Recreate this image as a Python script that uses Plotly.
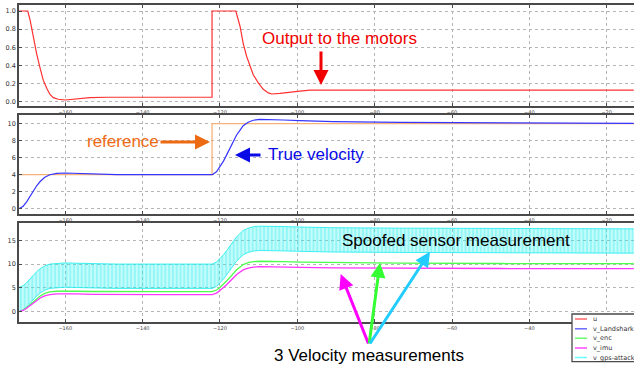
import plotly.graph_objects as go

# ---------------- data ----------------
u_t = [-172, -169.7, -169.1, -168.3, -167.4, -166.5, -165.7, -164.8, -164.0, -163.1, -161.8, -160.0,
       -157.1, -153.6, -149.3, -122.05, -122.05, -115.9, -114.8, -114.0, -113.1, -112.2, -111.4,
       -110.1, -108.8, -107.5, -106.6, -104.5, -101.9, -99.3, -96.7, -13]
u_v = [1.0, 1.0, 0.9, 0.72, 0.53, 0.37, 0.24, 0.15, 0.085, 0.048, 0.03, 0.022,
       0.033, 0.048, 0.052, 0.052, 1.0, 1.0, 0.83, 0.645, 0.5, 0.39, 0.30,
       0.21, 0.14, 0.10, 0.088, 0.095, 0.11, 0.12, 0.13, 0.13]

ref_t = [-172, -122.05, -122.05, -13]
ref_v = [4, 4, 10, 10]

t = [-172, -170.9, -170, -169.1, -168.3, -167.4, -166.5, -165.3, -164, -162.2, -160.1, -157.1,
     -152.8, -146.7, -135, -122, -120.9, -120, -119.1, -118.3, -117.4, -116.6, -115.7, -114.8,
     -114, -112.7, -111.4, -109.7, -107.1, -103.6, -99.3, -90.7, -73.5, -47.6, -13]
v_landshark = [0, 0.3, 0.8, 1.45, 2.1, 2.7, 3.2, 3.7, 4.0, 4.15, 4.2, 4.15,
               4.05, 4.0, 4.0, 4.0, 4.35, 4.94, 5.6, 6.3, 7.1, 7.9, 8.67, 9.25,
               9.76, 10.16, 10.4, 10.5, 10.5, 10.43, 10.35, 10.24, 10.16, 10.08, 10.04]
v_enc = [0, 0.35, 0.85, 1.5, 2.2, 2.8, 3.3, 3.85, 4.15, 4.3, 4.35, 4.3,
         4.25, 4.2, 4.2, 4.2, 4.55, 5.1, 5.75, 6.45, 7.25, 8.05, 8.8, 9.4,
         9.9, 10.3, 10.5, 10.6, 10.6, 10.5, 10.4, 10.3, 10.2, 10.12, 10.08]
v_imu = [0, 0.27, 0.72, 1.3, 1.9, 2.43, 2.88, 3.33, 3.6, 3.73, 3.78, 3.73,
         3.65, 3.6, 3.6, 3.6, 3.9, 4.45, 5.05, 5.67, 6.4, 7.1, 7.8, 8.33,
         8.78, 9.14, 9.36, 9.45, 9.45, 9.39, 9.32, 9.22, 9.14, 9.07, 9.04]
gps_lo = [0, 0.37, 0.98, 1.78, 2.57, 3.31, 3.92, 4.53, 4.9, 5.08, 5.15, 5.08,
          4.96, 4.9, 4.9, 4.9, 5.33, 6.05, 6.86, 7.72, 8.7, 9.68, 10.62, 11.33,
          11.96, 12.45, 12.74, 12.86, 12.86, 12.78, 12.68, 12.54, 12.45, 12.35, 12.3]
gps_hi = [5.1, 5.47, 6.08, 6.88, 7.67, 8.41, 9.02, 9.63, 10.0, 10.18, 10.25, 10.18,
          10.06, 10.0, 10.0, 10.0, 10.43, 11.15, 11.96, 12.82, 13.8, 14.78, 15.72, 16.43,
          17.06, 17.55, 17.84, 17.96, 17.96, 17.88, 17.78, 17.64, 17.55, 17.45, 17.4]

x_ticks = [-160, -140, -120, -100, -80, -60, -40, -20]
x_ticktext = ["\u2212160", "\u2212140", "\u2212120", "\u2212100", "\u221280", "\u221260", "\u221240", "\u221220"]
x_ticktext_bottom = ["\u2212160", "\u2212140", "\u2212120", "\u2212100", "\u221280", "\u221260", "\u221240", ""]
legend_names = ["u", "v_Landshark", "v_enc", "v_imu", "v_gps-attacked"]
legend_colors = ["#ff6a6a", "#6a6aff", "#6aff6a", "#ff4aff", "#6affff"]

# ---------------- figure ----------------
W, H = 634, 368
ML, MR, MT, MB = 19, 0, 5, 46
PW, PH = W - ML - MR, H - MT - MB


def P(px, py):
    return (px - ML) / PW, (H - MB - py) / PH


RED, BLUE, GREEN, MAG, CYAN, ORANGE = "#ff3030", "#3535ff", "#4cff4c", "#ff35ff", "#2aeeee", "#f7b27a"

fig = go.Figure()
fig.add_trace(go.Scatter(x=u_t, y=u_v, mode="lines", line=dict(color=RED, width=1.2),
                         name="u", xaxis="x", yaxis="y"))
fig.add_trace(go.Scatter(x=ref_t, y=ref_v, mode="lines", line=dict(color=ORANGE, width=1.3),
                         name="reference", xaxis="x2", yaxis="y2"))
fig.add_trace(go.Scatter(x=t, y=v_landshark, mode="lines", line=dict(color=BLUE, width=1.2),
                         name="v_Landshark", xaxis="x2", yaxis="y2"))
fig.add_trace(go.Scatter(x=t, y=gps_lo, mode="lines", line=dict(color=CYAN, width=0.9),
                         name="v_gps-attacked", xaxis="x3", yaxis="y3"))
fig.add_trace(go.Scatter(x=t, y=gps_hi, mode="lines", line=dict(color=CYAN, width=0.9),
                         fill="tonexty", fillcolor="rgba(0,0,0,0)",
                         fillpattern=dict(shape="|", fgcolor=CYAN, bgcolor="rgba(255,255,255,0)",
                                          size=3.8, solidity=0.78),
                         name="v_gps-attacked", xaxis="x3", yaxis="y3"))
fig.add_trace(go.Scatter(x=t, y=v_enc, mode="lines", line=dict(color=GREEN, width=1.3),
                         name="v_enc", xaxis="x3", yaxis="y3"))
fig.add_trace(go.Scatter(x=t, y=v_imu, mode="lines", line=dict(color=MAG, width=1.3),
                         name="v_imu", xaxis="x3", yaxis="y3"))

FRAME = "#4a4a4a"
tick_font = dict(family="DejaVu Sans", size=5, color="#444")
ytick_font = dict(family="DejaVu Sans", size=6.5, color="#333")


def xax(anchor, ticktext):
    return dict(domain=[0, 1], anchor=anchor, range=[-171.97, -12.94], tickvals=x_ticks,
                ticktext=ticktext,
                showline=True, linecolor=FRAME, linewidth=1.6, mirror="ticks",
                ticks="inside", ticklen=3, tickcolor=FRAME, tickfont=tick_font,
                showgrid=True, gridcolor="#b5b5b5", griddash="dot", gridwidth=1,
                zeroline=False, fixedrange=True)


def yax(anchor, dom, rng, tv, fmt):
    return dict(domain=dom, anchor=anchor, range=rng, tickvals=tv, tickformat=fmt,
                showline=True, linecolor=FRAME, linewidth=1.6, mirror=False,
                ticks="inside", ticklen=3, tickcolor=FRAME, tickfont=ytick_font,
                showgrid=True, gridcolor="#b5b5b5", griddash="dot", gridwidth=1,
                zeroline=False, fixedrange=True)


fig.update_layout(
    width=W, height=H,
    margin=dict(l=ML, r=MR, t=MT, b=MB, autoexpand=False),
    paper_bgcolor="white", plot_bgcolor="white", showlegend=False,
    xaxis=xax("y", x_ticktext), xaxis2=xax("y2", x_ticktext), xaxis3=xax("y3", x_ticktext_bottom),
    yaxis=yax("x", [0.6814, 1.0], [-0.044, 1.066], [0, 0.2, 0.4, 0.6, 0.8, 1.0], ".1f"),
    yaxis2=yax("x2", [0.3407, 0.653], [-0.62, 11.02], [0, 2, 4, 6, 8, 10], "d"),
    yaxis3=yax("x3", [0.0, 0.3123], [-2.16, 18.63], [0, 5, 10, 15], "d"),
)

TXT = "Liberation Sans, Arial, sans-serif"
anns = []


def label(text, cx, cy, color, size=17):
    x, y = P(cx, cy)
    anns.append(dict(text=text, x=x, y=y, xref="paper", yref="paper", xanchor="center",
                     yanchor="middle", showarrow=False, font=dict(family=TXT, size=size, color=color)))


def arrow(tip, tail, color, width=3):
    x, y = P(*tip)
    anns.append(dict(text="", x=x, y=y, xref="paper", yref="paper", showarrow=True,
                     ax=tail[0] - tip[0], ay=tail[1] - tip[1], arrowhead=2, arrowsize=1,
                     arrowwidth=width, arrowcolor=color, standoff=0, startstandoff=0))


label("Output to the motors", 339.5, 38.5, "#f00000")
arrow((321, 85), (321, 50), "#f00000")
label("reference", 122.8, 141.7, "#ee6a12")
arrow((210, 142), (159, 142), "#ee6a12")
label("True velocity", 315.5, 154.3, "#0a0ae6")
arrow((235, 155), (262, 155), "#0a0ae6")
label("Spoofed sensor measurement", 456, 240.7, "#000000")
arrow((340.7, 274), (369, 345), "#ff00ff")
arrow((380, 262.7), (369, 345), "#33ff33")
arrow((430, 251.7), (369, 345), "#22ccff")
label("3 Velocity measurements", 369, 355, "#000000")

# custom legend box
shapes = []
x0, y1 = P(572, 314)
x1, y0 = P(660, 361.7)
shapes.append(dict(type="rect", xref="paper", yref="paper", x0=x0, x1=x1, y0=y0, y1=y1,
                   line=dict(color=FRAME, width=1.3), fillcolor="white", layer="above"))
leg_y = [319, 328.8, 338.2, 348, 357.5]
for name, col, ly in zip(legend_names, legend_colors, leg_y):
    a, b = P(575, ly)
    c, _ = P(587, ly)
    shapes.append(dict(type="line", xref="paper", yref="paper", x0=a, x1=c, y0=b, y1=b,
                       line=dict(color=col, width=1.5), layer="above"))
    tx, ty = P(591, ly)
    anns.append(dict(text=name, x=tx, y=ty, xref="paper", yref="paper", xanchor="left",
                     yanchor="middle", showarrow=False,
                     font=dict(family="DejaVu Sans", size=6.5, color="#333")))

fig.update_layout(annotations=anns, shapes=shapes)
fig.write_html("out.html", config={"displayModeBar": False},
               post_script="document.body.style.margin='0';document.body.style.overflow='hidden';")
